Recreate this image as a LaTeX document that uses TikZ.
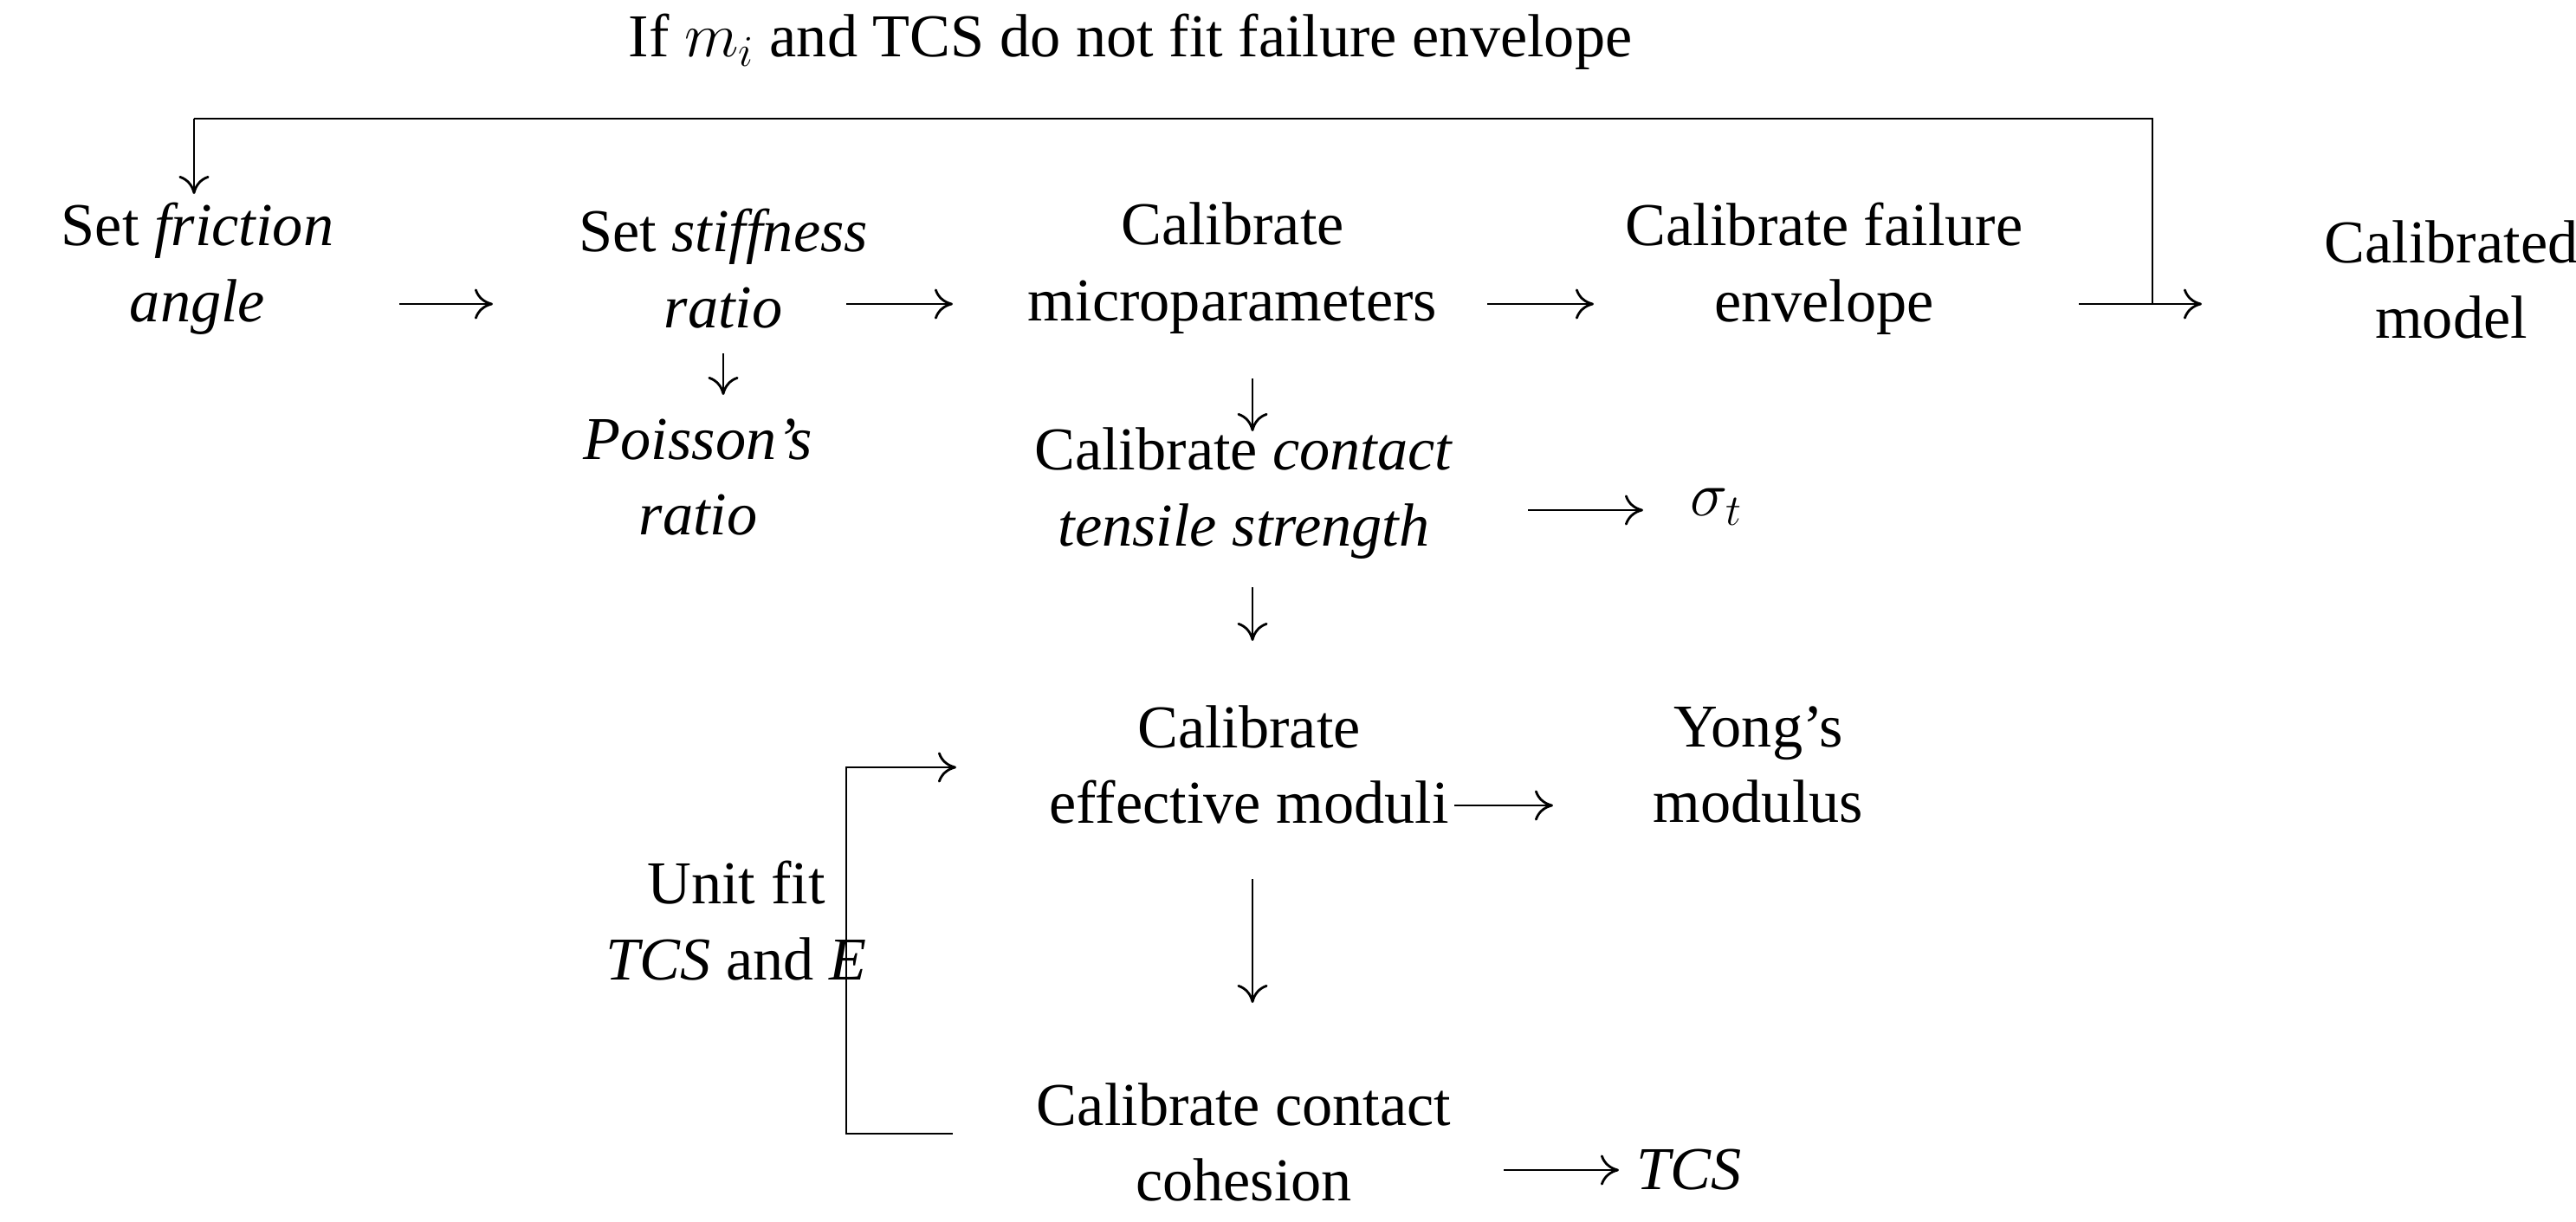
\documentclass[tikz,border=0pt]{standalone}
\usepackage{fontspec}
\setmainfont{Liberation Serif}
\usetikzlibrary{positioning,arrows.meta}
\begin{document}
\begin{tikzpicture}[x=1cm,y=1cm,
    every node/.style={font=\fontsize{20}{25}\selectfont,align=center},
    flow/.style={-{To[length=6pt,width=10pt]},thick},
    link/.style={thick}]
  \useasboundingbox (0,0) rectangle (29.74,14.1);
  % top row of steps
  \node (friction) at (2.28,11.0) {Set \textit{friction}\\\textit{angle}};
  \node (stiff) at (8.35,11.0) {Set \textit{stiffness}\\\textit{ratio}};
  \node (micro) at (14.23,11.0) {Calibrate\\microparameters};
  \node (fail) at (21.06,11.0) {Calibrate failure\\envelope};
  \node (model) at (28.3,10.87) {Calibrated\\model};
  \node (loop) at (13.05,13.62) {If $m_i$ and TCS do not fit failure envelope};
  % second column
  \node (poisson) at (8.06,8.59) {\textit{Poisson's}\\\textit{ratio}};
  \node (tensile) at (14.36,8.40) {Calibrate \textit{contact}\\\textit{tensile strength}};
  \node (sigma) at (19.82,8.25) {$\sigma_t$};
  \node (moduli) at (14.42,5.27) {Calibrate\\effective moduli};
  \node (young) at (20.3,5.27) {Yong's\\modulus};
  \node (cohesion) at (14.36,0.91) {Calibrate contact\\cohesion};
  \node (tcs) at (19.5,0.59) {\textit{TCS}};
  \node (unit) at (8.5,3.47) {Unit fit\\\textit{TCS} and \textit{E}};
  % connectors
  \coordinate (up) at (24.85,12.73);
  \coordinate (back) at (2.24,12.73);
  \draw[flow] (4.61,10.59) -- (5.69,10.59);
  \draw[flow] (9.77,10.59) -- (11.0,10.59);
  \draw[flow] (17.17,10.59) -- (18.4,10.59);
  \draw[flow] (24.0,10.59) -- (25.42,10.59);
  \draw[link] (24.85,10.59) -- (up) -- (back);
  \draw[flow] (back) -- (2.24,11.86);
  \draw[flow] (8.35,10.02) -- (8.35,9.54);
  \draw[flow] (14.46,9.73) -- (14.46,9.12);
  \draw[flow] (17.64,8.21) -- (18.97,8.21);
  \draw[flow] (14.46,7.32) -- (14.46,6.70);
  \draw[flow] (16.79,4.80) -- (17.93,4.80);
  \draw[flow] (14.46,3.95) -- (14.46,2.52);
  \draw[flow] (17.36,0.59) -- (18.69,0.59);
  \draw[flow] (11.0,1.01) -- (9.77,1.01) -- (9.77,5.24) -- (11.04,5.24);
\end{tikzpicture}
\end{document}
